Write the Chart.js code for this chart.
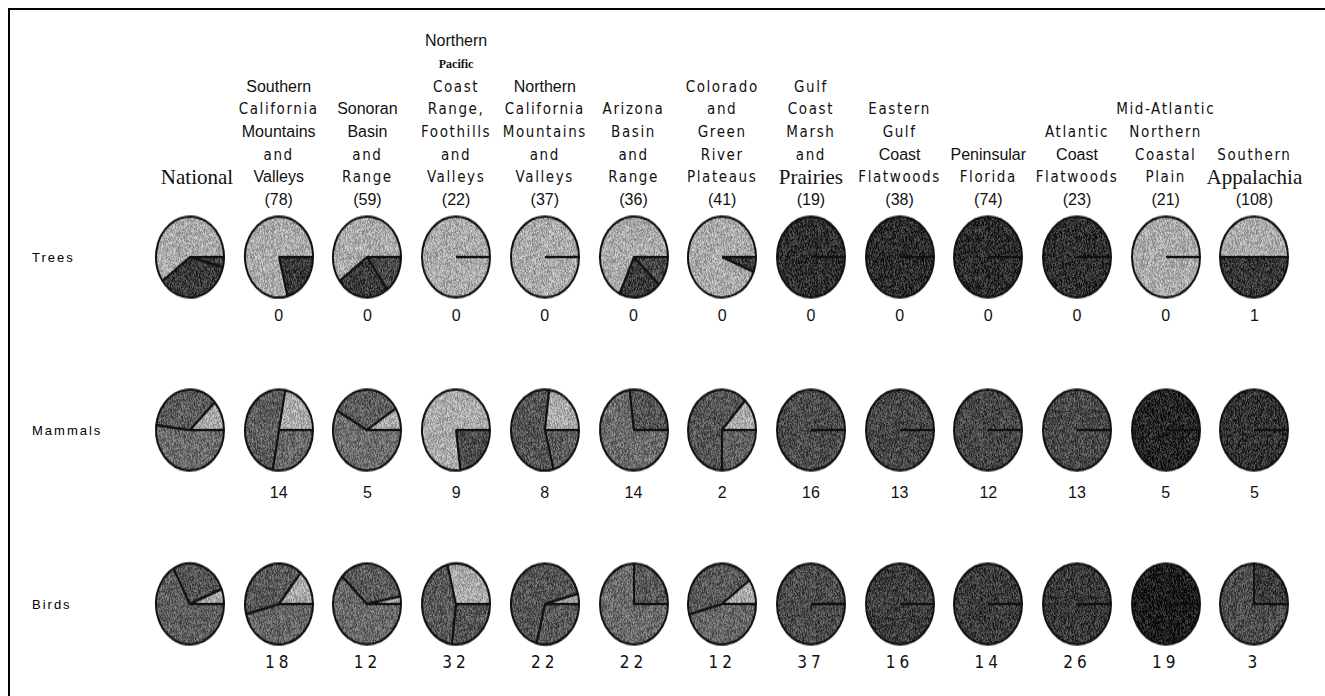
<!DOCTYPE html>
<html>
<head>
<meta charset="utf-8">
<script src="https://cdn.jsdelivr.net/npm/chart.js@4.4.0/dist/chart.umd.min.js"></script>
<style>
html, body { margin: 0; padding: 0; background: #fff; }
#page { position: relative; width: 1325px; height: 696px; overflow: hidden; }
#frame { position: absolute; left: 8px; top: 8px; width: 1400px; height: 800px; border-left: 2px solid #000; border-top: 2px solid #000; }
.t { position: absolute; white-space: nowrap; transform: translate(-50%, -50%); color: #111; line-height: 1; }
.a { font-family: "Liberation Sans", Arial, sans-serif; font-size: 16px; }
.n { font-family: "Liberation Sans Narrow", "DejaVu Sans Condensed", sans-serif; font-size: 15px; letter-spacing: 1.6px; }
.s { font-family: "Liberation Serif", serif; font-size: 21px; }
.sb { font-family: "Liberation Serif", serif; font-size: 12px; font-weight: bold; }
.row { position: absolute; font-family: "Liberation Sans", Arial, sans-serif; font-size: 13px; letter-spacing: 2px; transform: translateY(-50%); }
.cnt { font-family: "Liberation Sans", Arial, sans-serif; font-size: 16px; }
.cntb { font-family: "Liberation Sans Narrow", "DejaVu Sans Condensed", sans-serif; font-size: 17px; letter-spacing: 4px; }
.pie { position: absolute; width: 72px; height: 72px; transform: scaleY(1.19); }
</style>
</head>
<body>
<div id="page"><div id="frame"></div></div>
<script>
//----------regions----------
var regions = ["National","Southern California Mountains and Valleys","Sonoran Basin and Range",
  "Northern Pacific Coast Range, Foothills and Valleys","Northern California Mountains and Valleys",
  "Arizona Basin and Range","Colorado and Green River Plateaus","Gulf Coast Marsh and Prairies",
  "Eastern Gulf Coast Flatwoods","Peninsular Florida","Atlantic Coast Flatwoods",
  "Mid-Atlantic Northern Coastal Plain","Southern Appalachia"];
var regionCounts = ["","(78)","(59)","(22)","(37)","(36)","(41)","(19)","(38)","(74)","(23)","(21)","(108)"];

// header lines (top to bottom), and font class of each line
var headerLines = [
  ["National"],
  ["Southern","California","Mountains","and","Valleys"],
  ["Sonoran","Basin","and","Range"],
  ["Northern","Pacific","Coast","Range,","Foothills","and","Valleys"],
  ["Northern","California","Mountains","and","Valleys"],
  ["Arizona","Basin","and","Range"],
  ["Colorado","and","Green","River","Plateaus"],
  ["Gulf","Coast","Marsh","and","Prairies"],
  ["Eastern","Gulf","Coast","Flatwoods"],
  ["Peninsular","Florida"],
  ["Atlantic","Coast","Flatwoods"],
  ["Mid-Atlantic","Northern","Coastal","Plain"],
  ["Southern","Appalachia"]
];
var headerFonts = [
  ["s"],
  ["a","n","a","n","a"],
  ["a","a","n","n"],
  ["a","sb","n","n","n","n","n"],
  ["a","n","n","n","n"],
  ["n","n","n","n"],
  ["n","n","n","n","n"],
  ["n","n","n","n","s"],
  ["n","n","a","n"],
  ["a","n"],
  ["n","a","n"],
  ["n","n","n","n"],
  ["n","s"]
];

//----------pie slices, clockwise from 3 o'clock: A, B, light----------
var treesA   = [4, 21, 15, 0, 0, 12, 6, 0, 0, 0, 0, 0, 0];
var treesB   = [36, 0, 25, 0, 0, 20, 0, 100, 100, 100, 100, 0, 50];
var treesL   = [60, 79, 60, 100, 100, 68, 94, 0, 0, 0, 0, 100, 50];
var treesCounts = ["","0","0","0","0","0","0","0","0","0","0","0","1"];

var mammalsA = [52, 28, 58, 23, 21, 73, 25, 100, 100, 100, 100, 100, 100];
var mammalsB = [36, 50, 33, 0, 56, 27, 62, 0, 0, 0, 0, 0, 0];
var mammalsL = [12, 22, 9, 77, 23, 0, 13, 0, 0, 0, 0, 0, 0];
var mammalsCounts = ["","14","5","9","8","14","2","16","13","12","13","5","5"];

var birdsA   = [67, 46, 62, 27, 29, 75, 46, 100, 100, 100, 100, 100, 75];
var birdsB   = [27, 40, 35, 44, 67, 25, 44, 0, 0, 0, 0, 0, 25];
var birdsL   = [6, 14, 3, 29, 4, 0, 10, 0, 0, 0, 0, 0, 0];
var birdsCounts = ["","18","12","32","22","22","12","37","16","14","26","19","3"];

//----------shades (style)----------
var lightGray = "#ababab";
var treesShadeA   = ["#474747","#3a3a3a","#4a4a4a","#444","#444","#4a4a4a","#3a3a3a","#333","#2f2f2f","#2f2f2f","#333","#444","#363636"];
var treesShadeB   = ["#3a3a3a","#3a3a3a","#3c3c3c","#444","#444","#3c3c3c","#3a3a3a","#303030","#2d2d2d","#2d2d2d","#303030","#444","#363636"];
var mammalsShadeA = ["#6c6c6c","#6a6a6a","#6e6e6e","#4e4e4e","#5e5e5e","#6c6c6c","#616161","#4c4c4c","#474747","#474747","#4a4a4a","#262626","#333"];
var mammalsShadeB = ["#5c5c5c","#5e5e5e","#5f5f5f","#5a5a5a","#555","#565656","#565656","#4c4c4c","#474747","#474747","#4a4a4a","#262626","#333"];
var birdsShadeA   = ["#5f5f5f","#666","#6a6a6a","#555","#5a5a5a","#6c6c6c","#666","#4c4c4c","#3e3e3e","#3c3c3c","#3a3a3a","#1c1c1c","#4e4e4e"];
var birdsShadeB   = ["#555","#5a5a5a","#5c5c5c","#5a5a5a","#555","#5a5a5a","#5a5a5a","#4c4c4c","#3e3e3e","#3c3c3c","#3a3a3a","#1c1c1c","#3c3c3c"];

//----------layout----------
var page = document.getElementById("page");
function colX(i){ return 190 + 88.7 * i; }
var headBase = 200, lineGap = 22.7;

function addText(txt, cls, x, y){
  var d = document.createElement("div");
  d.className = "t " + cls;
  d.textContent = txt;
  d.style.left = x + "px";
  d.style.top = y + "px";
  page.appendChild(d);
  return d;
}

// header
headerLines.forEach(function(lines, i){
  var x = colX(i);
  if (i === 0) x = 197;
  if (regionCounts[i]) addText(regionCounts[i], "a", x, headBase);
  var n = lines.length;
  lines.forEach(function(txt, k){
    addText(txt, headerFonts[i][k], x, headBase - lineGap * (n - k));
  });
});

// row labels
[["Trees",257],["Mammals",430],["Birds",604]].forEach(function(r){
  var d = document.createElement("div");
  d.className = "row";
  d.textContent = r[0];
  d.style.left = "32px";
  d.style.top = r[1] + "px";
  page.appendChild(d);
});

// speckled fill like the scanned halftone (fixed seed, same every run)
var seed = 12345;
function lcg(){ seed = (seed * 1103515245 + 12345) % 2147483648; return seed / 2147483648; }
function speckle(ctx, hex){
  var c = document.createElement("canvas");
  c.width = 40; c.height = 40;
  var g = c.getContext('2d');
  g.fillStyle = hex;
  g.fillRect(0, 0, 40, 40);
  var img = g.getImageData(0, 0, 40, 40), p = img.data;
  for (var k = 0; k < p.length; k += 4){
    var v = p[k] + (lcg() - 0.5) * 90;
    v = Math.max(0, Math.min(255, v));
    p[k] = p[k+1] = p[k+2] = v;
  }
  g.putImageData(img, 0, 0);
  return ctx.createPattern(c, 'repeat');
}

function pieChart(cx, cy, a, b, l, ca, cb){
  var c = document.createElement("canvas");
  c.width = 72; c.height = 72;
  c.className = "pie";
  c.style.left = (cx - 36) + "px";
  c.style.top = (cy - 36) + "px";
  page.appendChild(c);
  var ctx = c.getContext('2d');
  new Chart(ctx, {
    type: 'pie',
    data: {
      labels: ["A", "B", "light"],
      datasets: [{
        data: [a, b, l],
        backgroundColor: [speckle(ctx, ca), speckle(ctx, cb), speckle(ctx, lightGray)],
        borderColor: "#111",
        borderWidth: 2
      }]
    },
    options: {
      responsive: false,
      animation: false,
      rotation: 90,
      events: [],
      layout: { padding: 1 },
      plugins: { legend: { display: false }, tooltip: { enabled: false } }
    }
  });
}

var rows = [
  { y: 257, ly: 316, A: treesA, B: treesB, L: treesL, ca: treesShadeA, cb: treesShadeB, counts: treesCounts, cls: "cnt" },
  { y: 430, ly: 493, A: mammalsA, B: mammalsB, L: mammalsL, ca: mammalsShadeA, cb: mammalsShadeB, counts: mammalsCounts, cls: "cnt" },
  { y: 604, ly: 662, A: birdsA, B: birdsB, L: birdsL, ca: birdsShadeA, cb: birdsShadeB, counts: birdsCounts, cls: "cntb" }
];
rows.forEach(function(r){
  for (var i = 0; i < regions.length; i++){
    pieChart(colX(i), r.y, r.A[i], r.B[i], r.L[i], r.ca[i], r.cb[i]);
    if (r.counts[i]) addText(r.counts[i], r.cls, colX(i), r.ly);
  }
});
</script>
</body>
</html>
